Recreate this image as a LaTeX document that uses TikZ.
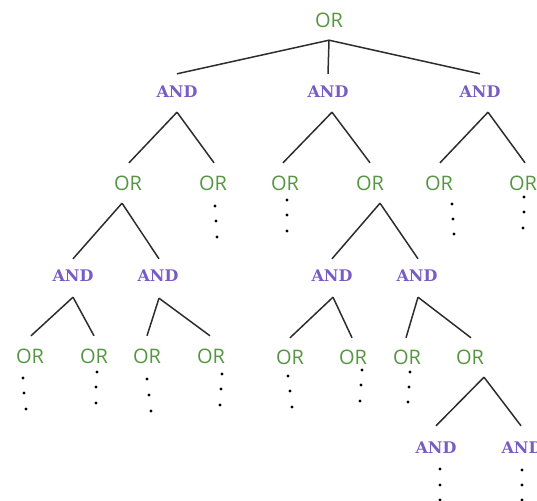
\documentclass[tikz,border=0pt]{standalone}
\usepackage{fontspec}
\setmainfont{Open Sans}
\newfontfamily\andfont{DejaVu Serif}
\definecolor{orgreen}{RGB}{86,150,66}
\definecolor{andpurple}{RGB}{120,92,196}
\definecolor{edgegray}{RGB}{45,45,45}
\tikzset{
  ornode/.style={inner sep=0pt, minimum height=40bp, text=orgreen,
    font=\fontsize{20bp}{24bp}\selectfont},
  andnode/.style={inner sep=0pt, minimum height=40bp, text=andpurple,
    font=\andfont\bfseries\fontsize{16bp}{19bp}\selectfont},
  edge/.style={draw=edgegray, line width=1.5bp},
  vdot/.style={fill=black}
}
\begin{document}
\begin{tikzpicture}[x=1bp,y=-1bp]
\useasboundingbox (0,0) rectangle (537,501);
\clip (0,0) rectangle (537,501);
% nodes
\node[ornode] (r) at (329,20) {OR};
\node[andnode] (a1) at (177,92) {AND};
\node[andnode] (a2) at (328,92) {AND};
\node[andnode] (a3) at (480,92) {AND};
\node[ornode] (o11) at (128,183) {OR};
\node[ornode] (o12) at (213,183) {OR};
\node[ornode] (o21) at (285,183) {OR};
\node[ornode] (o22) at (370,183) {OR};
\node[ornode] (o31) at (439,183) {OR};
\node[ornode] (o32) at (523,183) {OR};
\node[andnode] (a111) at (73,276) {AND};
\node[andnode] (a112) at (158,276) {AND};
\node[andnode] (a221) at (332,276) {AND};
\node[andnode] (a222) at (417,276) {AND};
\node[ornode] (p1) at (30,356) {OR};
\node[ornode] (p2) at (94,356) {OR};
\node[ornode] (p3) at (147,356) {OR};
\node[ornode] (p4) at (211,356) {OR};
\node[ornode] (p5) at (290,357) {OR};
\node[ornode] (p6) at (353,357) {OR};
\node[ornode] (p7) at (407,357) {OR};
\node[ornode] (p8) at (470,357) {OR};
\node[andnode] (b1) at (436,448) {AND};
\node[andnode] (b2) at (522,448) {AND};
% edges
\draw[edge] (r.south) -- ([yshift=-2bp]a1.north);
\draw[edge] (r.south) -- ([yshift=-2bp]a2.north);
\draw[edge] (r.south) -- ([yshift=-2bp]a3.north);
\draw[edge] (a1.south) -- ([xshift=1bp]o11.north);
\draw[edge] (a1.south) -- ([xshift=1bp]o12.north);
\draw[edge] ([xshift=4bp]a2.south) -- ([xshift=-2bp]o21.north);
\draw[edge] ([xshift=4bp]a2.south) -- (o22.north);
\draw[edge] ([xshift=8bp]a3.south) -- ([xshift=1bp]o31.north);
\draw[edge] ([xshift=8bp]a3.south) -- ([xshift=2bp]o32.north);
\draw[edge] ([xshift=-6bp]o11.south) -- ([yshift=-3bp]a111.north);
\draw[edge] ([xshift=-6bp]o11.south) -- ([xshift=1bp,yshift=-3bp]a112.north);
\draw[edge] ([xshift=10bp]o22.south) -- ([yshift=-3bp]a221.north);
\draw[edge] ([xshift=10bp]o22.south) -- ([xshift=1bp,yshift=-3bp]a222.north);
\draw[edge] ([yshift=-1bp]a111.south) -- ([xshift=1bp]p1.north);
\draw[edge] ([yshift=-1bp]a111.south) -- (p2.north);
\draw[edge] ([xshift=1bp,yshift=-2bp]a112.south) -- (p3.north);
\draw[edge] ([xshift=1bp,yshift=-2bp]a112.south) -- ([xshift=-1bp]p4.north);
\draw[edge] ([xshift=1bp,yshift=-1bp]a221.south) -- ([yshift=-1bp]p5.north);
\draw[edge] ([xshift=1bp,yshift=-1bp]a221.south) -- ([xshift=-1bp,yshift=-1bp]p6.north);
\draw[edge] ([xshift=1bp,yshift=-1bp]a222.south) -- ([xshift=-1bp,yshift=-1bp]p7.north);
\draw[edge] ([xshift=1bp,yshift=-1bp]a222.south) -- ([xshift=1bp,yshift=-1bp]p8.north);
\draw[edge] ([xshift=14bp]p8.south) -- ([yshift=2bp]b1.north);
\draw[edge] ([xshift=14bp]p8.south) -- ([xshift=-1bp,yshift=2bp]b2.north);
% continuation dots
\foreach \x/\y in {215/206,216/221,217/237,
  287/200,287/215,287/231,
  452/204,453/219,454/234,
  524/197,524/212,523/228,
  23/378,24/393,26/409,
  97/372,96/387,96/403,
  147/379,149/395,151/411,
  222/374,221/389,220/405,
  288/376,290/391,292/407,
  362/370,361/385,360/401,
  410/372,409/387,408/402,
  440/469,440/485,440/500,
  522/470,522/485,522/500}
  \fill[vdot] (\x,\y) circle (1.7bp);
\end{tikzpicture}
\end{document}
